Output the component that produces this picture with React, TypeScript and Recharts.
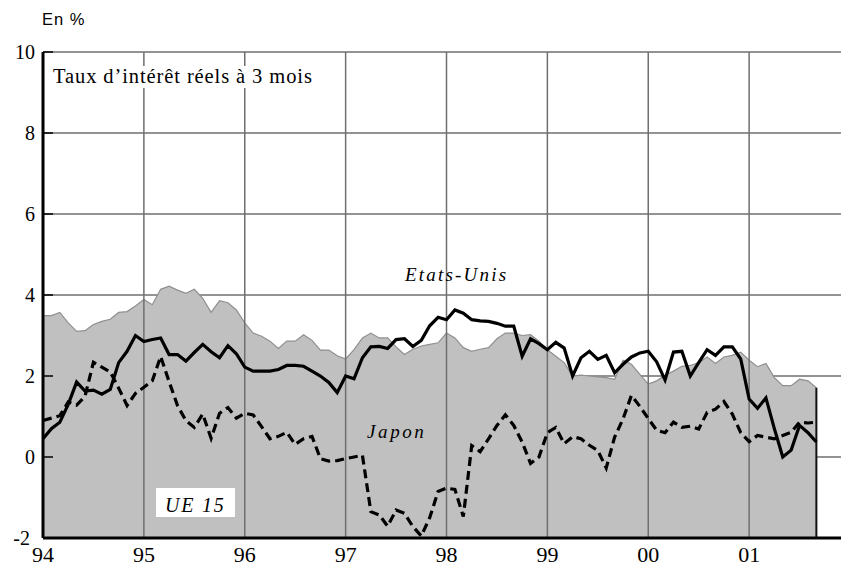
import React from "react";
import {
  Area,
  CartesianGrid,
  ComposedChart,
  Line,
  ReferenceLine,
  XAxis,
  YAxis,
} from "recharts";

// months since Jan 1994, one point per month up to Sep 2001
const months = Array.from({ length: 93 }, (_, i) => i);

const yearTicks = [0, 12, 24, 36, 48, 60, 72, 84];
const yearLabels = ["94", "95", "96", "97", "98", "99", "00", "01"];
const valueTicks = [-2, 0, 2, 4, 6, 8, 10];

const ue15 = [
  3.49, 3.49, 3.57, 3.31, 3.1, 3.12, 3.27, 3.35, 3.4, 3.57, 3.59, 3.73,
  3.89, 3.76, 4.14, 4.22, 4.12, 4.04, 4.14, 3.92, 3.57, 3.86, 3.81, 3.63,
  3.31, 3.06, 2.98, 2.86, 2.68, 2.86, 2.86, 3.02, 2.88, 2.64, 2.64, 2.5,
  2.42, 2.65, 2.94, 3.06, 2.94, 2.94, 2.72, 2.53, 2.66, 2.74, 2.78, 2.82,
  3.06, 2.94, 2.7, 2.61, 2.66, 2.7, 2.92, 3.06, 3.06, 3.0, 3.02, 2.86,
  2.65, 2.49, 2.33, 2.0, 2.02, 2.0, 1.98, 1.96, 1.92, 2.39, 2.29, 2.04,
  1.8, 1.88, 2.02, 2.12, 2.24, 2.26, 2.33, 2.47, 2.31, 2.47, 2.51, 2.59,
  2.39, 2.23, 2.31, 1.96, 1.76, 1.76, 1.92, 1.88, 1.71,
];

const etatsUnis = [
  0.45, 0.7, 0.86, 1.3, 1.85, 1.63, 1.65, 1.55, 1.67, 2.33, 2.61, 3.0,
  2.85, 2.9, 2.94, 2.53, 2.53, 2.37, 2.58, 2.78, 2.6, 2.45, 2.75, 2.55,
  2.22, 2.12, 2.12, 2.12, 2.16, 2.26, 2.26, 2.24, 2.12, 2.0, 1.84, 1.59,
  2.0, 1.93, 2.45, 2.72, 2.73, 2.68, 2.9, 2.92, 2.73, 2.88, 3.24, 3.45,
  3.39, 3.63, 3.55, 3.39, 3.36, 3.35, 3.3, 3.23, 3.23, 2.49, 2.92, 2.8,
  2.65, 2.83, 2.69, 2.0, 2.45, 2.61, 2.41, 2.51, 2.08, 2.29, 2.47, 2.57,
  2.61, 2.35, 1.9, 2.59, 2.61, 2.0, 2.33, 2.65, 2.51, 2.72, 2.72, 2.42,
  1.43, 1.2, 1.46, 0.7, 0.0, 0.17, 0.78, 0.6, 0.37,
];

const japon = [
  0.9, 0.96, 1.02, 1.36, 1.28, 1.5, 2.34, 2.22, 2.1, 1.7, 1.27, 1.57,
  1.72, 1.88, 2.48, 1.86, 1.27, 0.9, 0.73, 1.06, 0.46, 1.08, 1.22, 0.96,
  1.08, 1.04, 0.75, 0.45, 0.51, 0.61, 0.31, 0.45, 0.51, -0.04, -0.1, -0.09,
  -0.04, 0.0, 0.04, -1.35, -1.43, -1.71, -1.31, -1.39, -1.72, -1.95, -1.5, -0.85,
  -0.77, -0.8, -1.47, 0.28, 0.13, 0.45, 0.78, 1.04, 0.78, 0.37, -0.16, 0.0,
  0.6, 0.73, 0.33, 0.5, 0.45, 0.29, 0.16, -0.27, 0.49, 0.94, 1.52, 1.25,
  0.95, 0.66, 0.6, 0.86, 0.73, 0.76, 0.69, 1.1, 1.18, 1.37, 1.06, 0.6,
  0.38, 0.53, 0.49, 0.45, 0.53, 0.61, 0.86, 0.84, 0.86,
];

const data = months.map((m, i) => ({
  m,
  ue: ue15[i],
  us: etatsUnis[i],
  jp: japon[i],
}));

const lastIndex = months.length - 1;
const gridColor = "#6f6f6f";
const serif: React.CSSProperties = {
  fontFamily: '"Liberation Serif", "Times New Roman", serif',
};
const serifItalic: React.CSSProperties = { ...serif, fontStyle: "italic" };

const YTick = (props: any) => {
  const { x, y, payload } = props;
  const shift = payload.value === -2 ? -5 : 0;
  return (
    <g>
      <line x1={x} x2={x + 10} y1={y} y2={y} stroke="#000" strokeWidth={1.5} />
      <text
        x={x - 8 + shift}
        y={y}
        dy="0.35em"
        textAnchor="end"
        style={serif}
        fontSize={20}
        fill="#000"
      >
        {payload.value}
      </text>
    </g>
  );
};

const XTick = (props: any) => {
  const { x, y, payload } = props;
  const idx = yearTicks.indexOf(payload.value);
  return (
    <text
      x={x}
      y={y + 24}
      textAnchor="middle"
      style={serif}
      fontSize={22}
      fill="#000"
    >
      {yearLabels[idx]}
    </text>
  );
};

export default function App() {
  return (
    <div
      style={{
        position: "fixed",
        left: 0,
        top: 0,
        width: 841,
        height: 567,
        overflow: "hidden",
        background: "#fff",
      }}
    >
      <ComposedChart
        width={850}
        height={567}
        data={data}
        margin={{ top: 52, right: 0, bottom: 0, left: 0 }}
      >
        <CartesianGrid vertical={false} stroke={gridColor} strokeWidth={1.5} />
        <XAxis
          type="number"
          dataKey="m"
          domain={[0, 96]}
          ticks={yearTicks}
          height={29}
          tickLine={false}
          tickSize={0}
          tickMargin={0}
          axisLine={{ stroke: "#000", strokeWidth: 3 }}
          tick={<XTick />}
          interval={0}
        />
        <YAxis
          domain={[-2, 10]}
          ticks={valueTicks}
          width={43}
          tickLine={false}
          tickSize={0}
          tickMargin={0}
          axisLine={{ stroke: "#000", strokeWidth: 3 }}
          tick={<YTick />}
          interval={0}
        />
        <Area
          dataKey="ue"
          type="linear"
          baseValue="dataMin"
          fill="#c0c0c0"
          fillOpacity={1}
          stroke="#8f8f8f"
          strokeWidth={1.2}
          isAnimationActive={false}
        />
        <ReferenceLine
          segment={[
            { x: lastIndex, y: -2 },
            { x: lastIndex, y: ue15[lastIndex] },
          ]}
          stroke="#111"
          strokeWidth={2}
        />
        {yearTicks.slice(1).map((t) => (
          <ReferenceLine key={t} x={t} stroke={gridColor} strokeWidth={1.5} />
        ))}
        <Line
          dataKey="jp"
          type="linear"
          stroke="#000"
          strokeWidth={3.2}
          strokeDasharray="9 5"
          dot={false}
          isAnimationActive={false}
        />
        <Line
          dataKey="us"
          type="linear"
          stroke="#000"
          strokeWidth={3.2}
          dot={false}
          isAnimationActive={false}
        />
      </ComposedChart>
      <svg
        width={841}
        height={567}
        style={{ position: "absolute", left: 0, top: 0, pointerEvents: "none" }}
      >
        <text
          x={42}
          y={25}
          style={{ fontFamily: '"Liberation Sans", Arial, sans-serif' }}
          fontSize={16.5}
          letterSpacing={1}
          fill="#000"
        >
          En %
        </text>
        <rect x={48} y={66} width={273} height={22} fill="#fff" />
        <text
          x={53}
          y={83}
          style={serif}
          fontSize={20.5}
          letterSpacing={0.9}
          fill="#000"
        >
          Taux d’intérêt réels à 3 mois
        </text>
        <text
          x={405}
          y={281}
          style={serifItalic}
          fontSize={19}
          letterSpacing={2.2}
          fill="#000"
        >
          Etats-Unis
        </text>
        <text
          x={367}
          y={438}
          style={serifItalic}
          fontSize={19}
          letterSpacing={2.6}
          fill="#000"
        >
          Japon
        </text>
        <rect x={156} y={488} width={79} height={29} fill="#fff" />
        <text
          x={165}
          y={512}
          style={serifItalic}
          fontSize={20}
          letterSpacing={1.8}
          fill="#000"
        >
          UE 15
        </text>
      </svg>
    </div>
  );
}
